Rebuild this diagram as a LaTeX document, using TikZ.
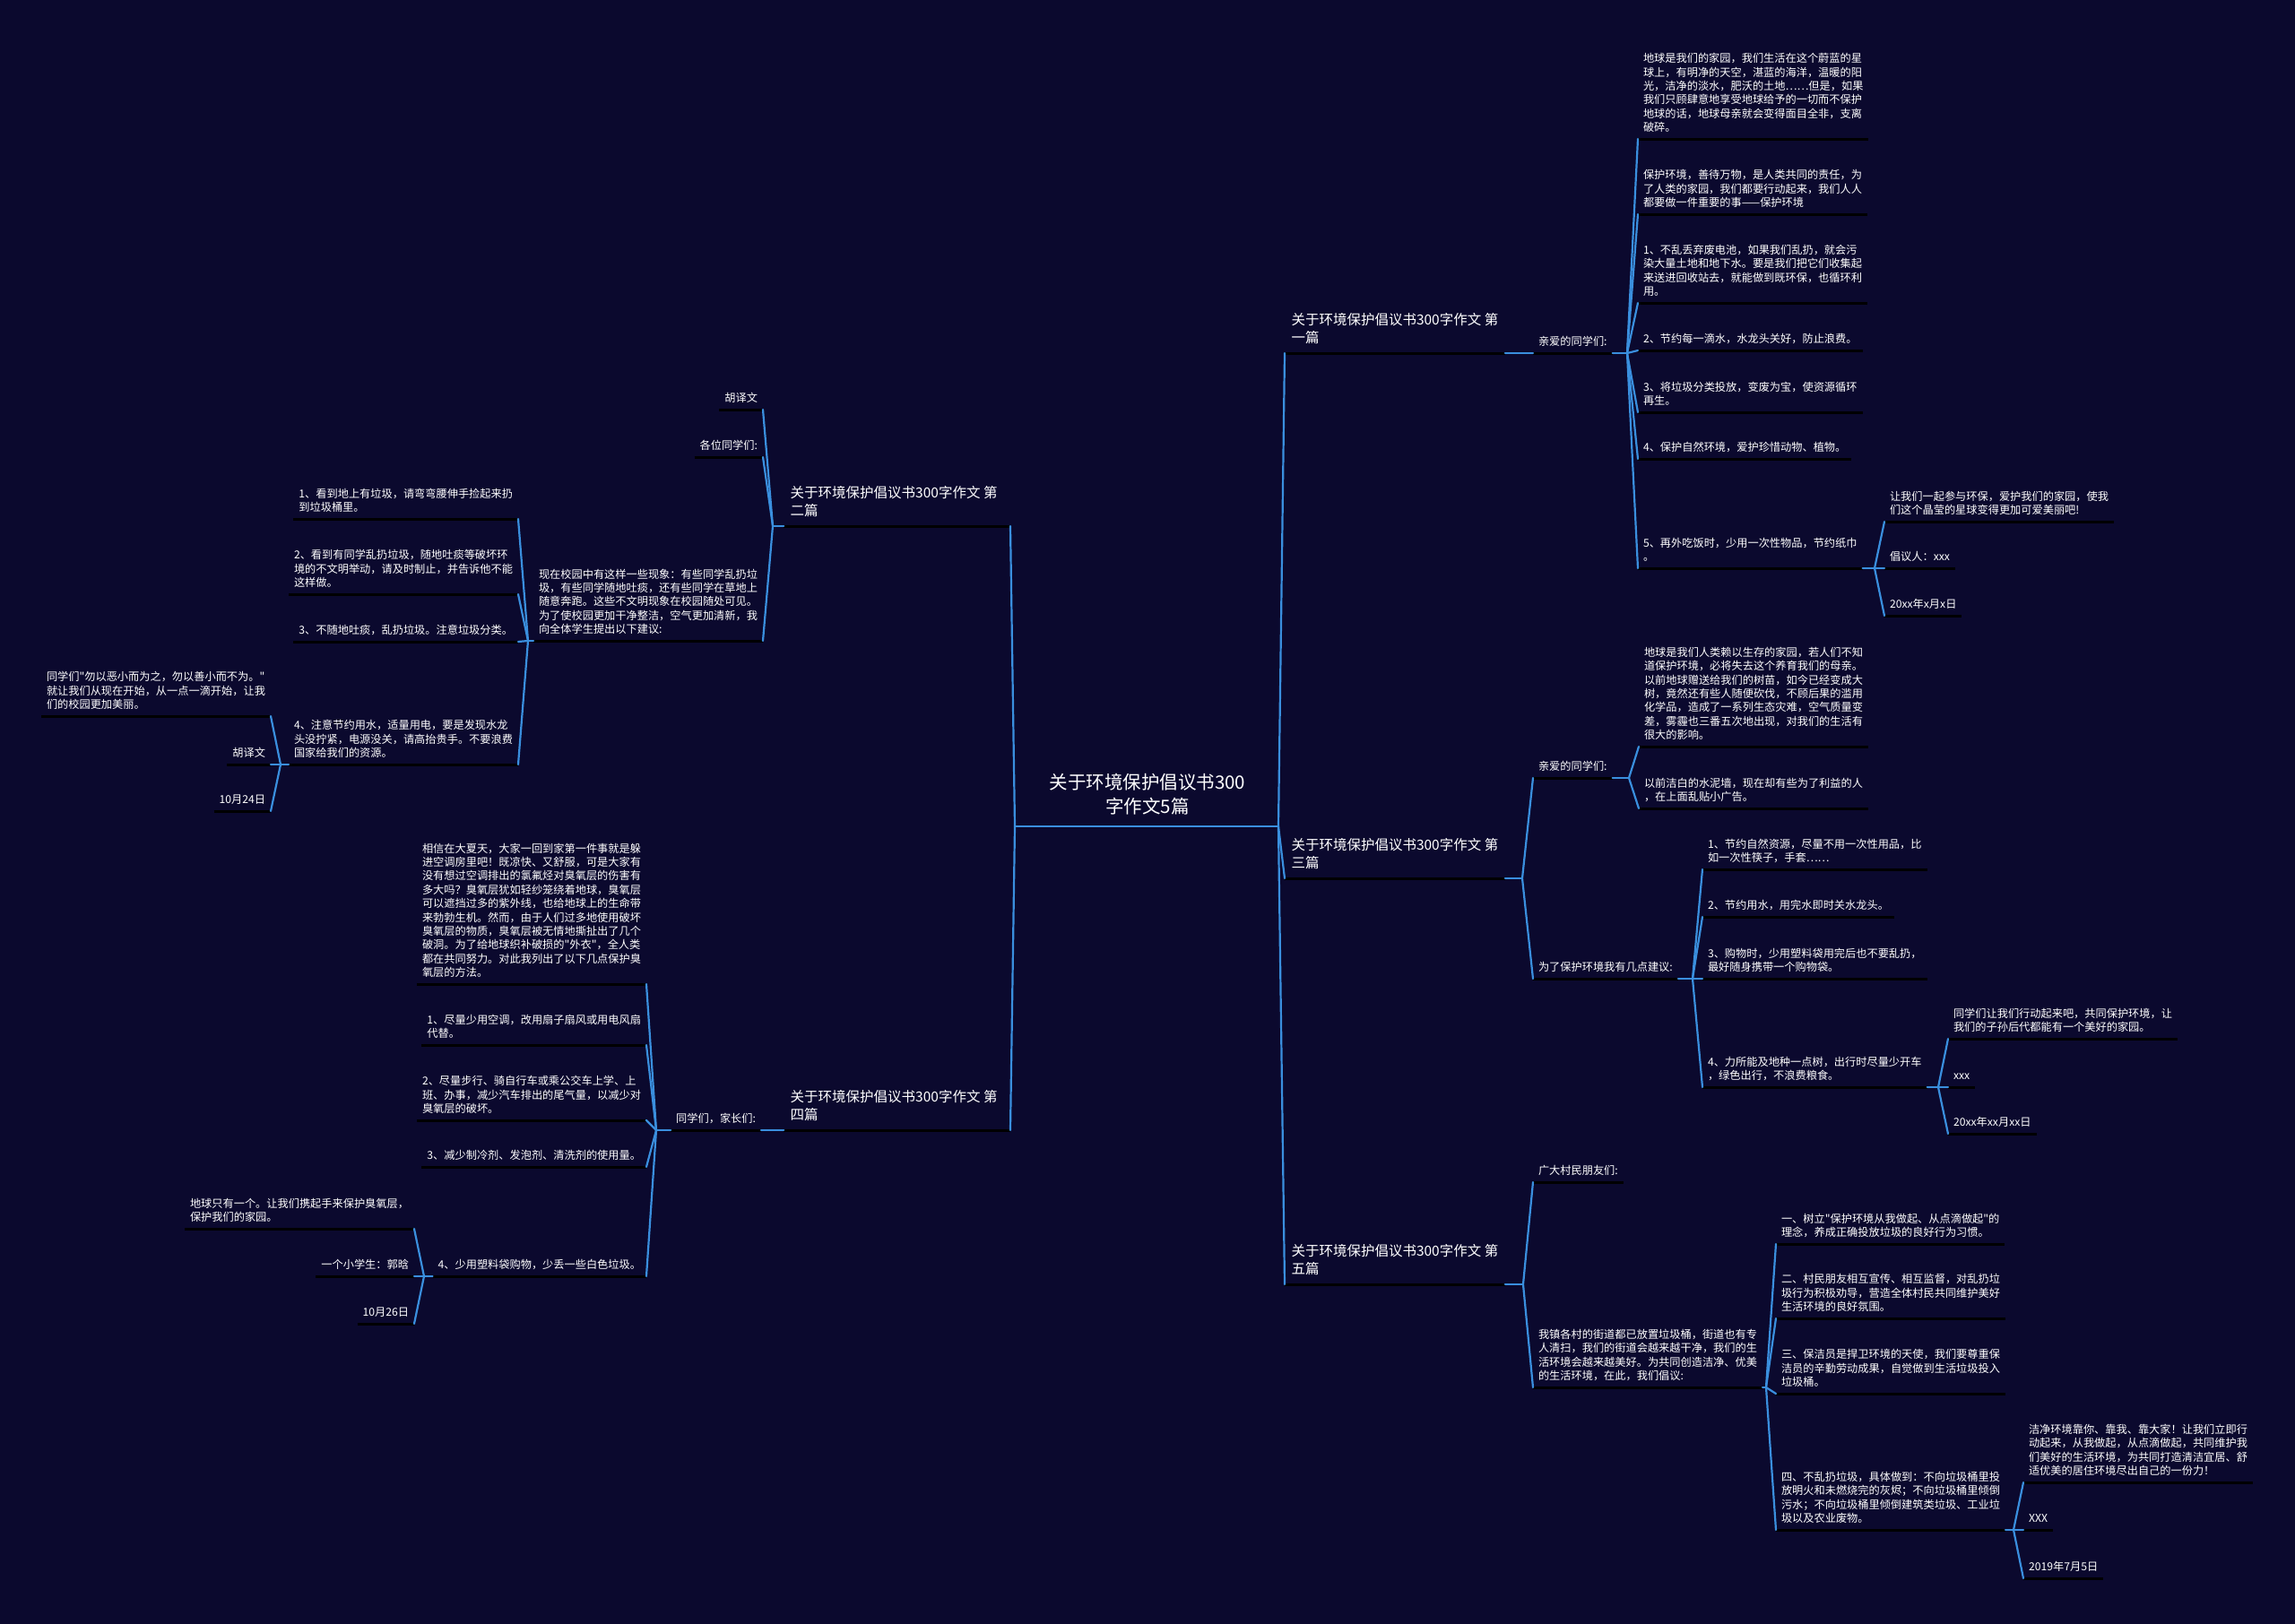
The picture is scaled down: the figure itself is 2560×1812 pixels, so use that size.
\documentclass[tikz,border=0pt]{standalone}
\usepackage{fontspec}
\setmainfont{Noto Sans CJK SC}
\newfontfamily\nf{Noto Sans CJK SC}
\usetikzlibrary{calc}
\definecolor{bgc}{RGB}{11,9,46}
\definecolor{lnc}{RGB}{58,143,222}
\tikzset{
 txtbase/.style={inner xsep=6pt, inner ysep=5.4pt, outer sep=0pt, text depth=3pt, align=left, text=white, font=\nf\fontsize{12.2}{15.4}\selectfont},
 rn/.style={txtbase, anchor=south west},
 ln/.style={txtbase, anchor=south east},
 secbase/.style={txtbase, inner xsep=7.5pt, inner ysep=8.3pt, font=\nf\fontsize{15.5}{20}\selectfont},
 rsec/.style={secbase, anchor=south west},
 lsec/.style={secbase, anchor=south east},
 ul/.style={draw=black, line width=3pt},
 cn/.style={draw=lnc, line width=2.2pt, line cap=round},
}
\begin{document}
\begin{tikzpicture}[x=1pt,y=-1pt]
\fill[bgc] (0,0) rectangle (2560,1812);
\useasboundingbox (0,0) rectangle (2560,1812);

% root
\node[txtbase, anchor=south, align=center, font=\nf\fontsize{20.5}{27}\selectfont, inner ysep=11.8pt] (root) at (1280,922) {关于环境保护倡议书300\\字作文5篇};
\coordinate (rootL) at (1138,922);
\coordinate (rootR) at (1420,922);
\coordinate (vR) at (1426,922);
\coordinate (vL) at (1132,922);

% ---------- right: section 1
\node[rsec] (S1) at (1433,394) {关于环境保护倡议书300字作文 第\\一篇};
\node[rn] (S1a) at (1710,394) {亲爱的同学们:};
\node[rn] (S1a1) at (1827,155) {地球是我们的家园，我们生活在这个蔚蓝的星\\球上，有明净的天空，湛蓝的海洋，温暖的阳\\光，洁净的淡水，肥沃的土地……但是，如果\\我们只顾肆意地享受地球给予的一切而不保护\\地球的话，地球母亲就会变得面目全非，支离\\破碎。};
\node[rn] (S1a2) at (1827,239) {保护环境，善待万物，是人类共同的责任，为\\了人类的家园，我们都要行动起来，我们人人\\都要做一件重要的事——保护环境};
\node[rn] (S1a3) at (1827,338) {1、不乱丢弃废电池，如果我们乱扔，就会污\\染大量土地和地下水。要是我们把它们收集起\\来送进回收站去，就能做到既环保，也循环利\\用。};
\node[rn] (S1a4) at (1827,391) {2、节约每一滴水，水龙头关好，防止浪费。};
\node[rn] (S1a5) at (1827,460) {3、将垃圾分类投放，变废为宝，使资源循环\\再生。};
\node[rn] (S1a6) at (1827,512) {4、保护自然环境，爱护珍惜动物、植物。};
\node[rn] (S1a7) at (1827,634) {5、再外吃饭时，少用一次性物品，节约纸巾\\。};
\node[rn] (S1a7a) at (2102,582) {让我们一起参与环保，爱护我们的家园，使我\\们这个晶莹的星球变得更加可爱美丽吧!};
\node[rn] (S1a7b) at (2102,634) {倡议人：xxx};
\node[rn] (S1a7c) at (2102,687) {20xx年x月x日};
\coordinate (vS1a) at (1815,394);
\coordinate (vS1a7) at (2091,634);

% ---------- right: section 3
\node[rsec] (S3) at (1433,980) {关于环境保护倡议书300字作文 第\\三篇};
\node[rn] (S3a) at (1710,868) {亲爱的同学们:};
\node[rn] (S3a1) at (1828,833) {地球是我们人类赖以生存的家园，若人们不知\\道保护环境，必将失去这个养育我们的母亲。\\以前地球赠送给我们的树苗，如今已经变成大\\树，竟然还有些人随便砍伐，不顾后果的滥用\\化学品，造成了一系列生态灾难，空气质量变\\差，雾霾也三番五次地出现，对我们的生活有\\很大的影响。};
\node[rn] (S3a2) at (1828,902) {以前洁白的水泥墙，现在却有些为了利益的人\\，在上面乱贴小广告。};
\node[rn] (S3b) at (1710,1092) {为了保护环境我有几点建议:};
\node[rn] (S3b1) at (1899,970) {1、节约自然资源，尽量不用一次性用品，比\\如一次性筷子，手套……};
\node[rn] (S3b2) at (1899,1023) {2、节约用水，用完水即时关水龙头。};
\node[rn] (S3b3) at (1899,1092) {3、购物时，少用塑料袋用完后也不要乱扔，\\最好随身携带一个购物袋。};
\node[rn] (S3b4) at (1899,1213) {4、力所能及地种一点树，出行时尽量少开车\\，绿色出行，不浪费粮食。};
\node[rn] (S3b4a) at (2173,1159) {同学们让我们行动起来吧，共同保护环境，让\\我们的子孙后代都能有一个美好的家园。};
\node[rn] (S3b4b) at (2173,1213) {xxx};
\node[rn] (S3b4c) at (2173,1265) {20xx年xx月xx日};
\coordinate (vS3) at (1698,980);
\coordinate (vS3a) at (1817,868);
\coordinate (vS3b) at (1888,1092);
\coordinate (vS3b4) at (2162,1213);

% ---------- right: section 5
\node[rsec] (S5) at (1433,1433) {关于环境保护倡议书300字作文 第\\五篇};
\node[rn] (S5a) at (1710,1319) {广大村民朋友们:};
\node[rn] (S5b) at (1710,1548) {我镇各村的街道都已放置垃圾桶，街道也有专\\人清扫，我们的街道会越来越干净，我们的生\\活环境会越来越美好。为共同创造洁净、优美\\的生活环境，在此，我们倡议:};
\node[rn] (S5b1) at (1981,1388) {一、树立"保护环境从我做起、从点滴做起"的\\理念，养成正确投放垃圾的良好行为习惯。};
\node[rn] (S5b2) at (1981,1471) {二、村民朋友相互宣传、相互监督，对乱扔垃\\圾行为积极劝导，营造全体村民共同维护美好\\生活环境的良好氛围。};
\node[rn] (S5b3) at (1981,1555) {三、保洁员是捍卫环境的天使，我们要尊重保\\洁员的辛勤劳动成果，自觉做到生活垃圾投入\\垃圾桶。};
\node[rn] (S5b4) at (1981,1707) {四、不乱扔垃圾，具体做到：不向垃圾桶里投\\放明火和未燃烧完的灰烬；不向垃圾桶里倾倒\\污水；不向垃圾桶里倾倒建筑类垃圾、工业垃\\圾以及农业废物。};
\node[rn] (S5b4a) at (2257,1654) {洁净环境靠你、靠我、靠大家！让我们立即行\\动起来，从我做起，从点滴做起，共同维护我\\们美好的生活环境，为共同打造清洁宜居、舒\\适优美的居住环境尽出自己的一份力！};
\node[rn] (S5b4b) at (2257,1707) {XXX};
\node[rn] (S5b4c) at (2257,1761) {2019年7月5日};
\coordinate (vS5) at (1699,1433);
\coordinate (vS5b) at (1970,1548);
\coordinate (vS5b4) at (2246,1707);

% ---------- left: section 2
\node[lsec] (S2) at (1127,587) {关于环境保护倡议书300字作文 第\hspace*{7pt}\\二篇};
\node[ln] (S2a) at (851,457) {胡译文};
\node[ln] (S2b) at (851,510) {各位同学们:};
\node[ln] (S2c) at (851,715) {现在校园中有这样一些现象：有些同学乱扔垃\\圾，有些同学随地吐痰，还有些同学在草地上\\随意奔跑。这些不文明现象在校园随处可见。\\为了使校园更加干净整洁，空气更加清新，我\\向全体学生提出以下建议:};
\node[ln] (S2c1) at (578,579) {1、看到地上有垃圾，请弯弯腰伸手捡起来扔\\到垃圾桶里。};
\node[ln] (S2c2) at (578,663) {2、看到有同学乱扔垃圾，随地吐痰等破坏环\\境的不文明举动，请及时制止，并告诉他不能\\这样做。};
\node[ln] (S2c3) at (578,716) {3、不随地吐痰，乱扔垃圾。注意垃圾分类。};
\node[ln] (S2c4) at (578,853) {4、注意节约用水，适量用电，要是发现水龙\\头没拧紧，电源没关，请高抬贵手。不要浪费\\国家给我们的资源。};
\node[ln] (S2c4a) at (302,799) {同学们"勿以恶小而为之，勿以善小而不为。"\\就让我们从现在开始，从一点一滴开始，让我\\们的校园更加美丽。};
\node[ln] (S2c4b) at (302,853) {胡译文};
\node[ln] (S2c4c) at (302,905) {10月24日};
\coordinate (vS2) at (862,587);
\coordinate (vS2c) at (589,715);
\coordinate (vS2c4) at (313,853);

% ---------- left: section 4
\node[lsec] (S4) at (1127,1261) {关于环境保护倡议书300字作文 第\hspace*{7pt}\\四篇};
\node[ln] (S4a) at (849,1261) {同学们，家长们:};
\node[ln] (S4a1) at (721,1098) {相信在大夏天，大家一回到家第一件事就是躲\\进空调房里吧！既凉快、又舒服，可是大家有\\没有想过空调排出的氯氟烃对臭氧层的伤害有\\多大吗？臭氧层犹如轻纱笼绕着地球，臭氧层\\可以遮挡过多的紫外线，也给地球上的生命带\\来勃勃生机。然而，由于人们过多地使用破坏\\臭氧层的物质，臭氧层被无情地撕扯出了几个\\破洞。为了给地球织补破损的"外衣"，全人类\\都在共同努力。对此我列出了以下几点保护臭\\氧层的方法。};
\node[ln] (S4a2) at (721,1166) {1、尽量少用空调，改用扇子扇风或用电风扇\\代替。};
\node[ln] (S4a3) at (721,1250) {2、尽量步行、骑自行车或乘公交车上学、上\\班、办事，减少汽车排出的尾气量，以减少对\\臭氧层的破坏。};
\node[ln] (S4a4) at (721,1302) {3、减少制冷剂、发泡剂、清洗剂的使用量。};
\node[ln] (S4a5) at (721,1424) {4、少用塑料袋购物，少丢一些白色垃圾。};
\node[ln] (S4a5a) at (462,1371) {地球只有一个。让我们携起手来保护臭氧层，\\保护我们的家园。};
\node[ln] (S4a5b) at (462,1424) {一个小学生：郭晗};
\node[ln] (S4a5c) at (462,1477) {10月26日};
\coordinate (vS4a) at (732,1261);
\coordinate (vS4a5) at (473,1424);

% ---------- underlines
\foreach \n in {S1,S1a,S1a1,S1a2,S1a3,S1a4,S1a5,S1a6,S1a7,S1a7a,S1a7b,S1a7c,
  S3,S3a,S3a1,S3a2,S3b,S3b1,S3b2,S3b3,S3b4,S3b4a,S3b4b,S3b4c,
  S5,S5a,S5b,S5b1,S5b2,S5b3,S5b4,S5b4a,S5b4b,S5b4c,
  S2,S2a,S2b,S2c,S2c1,S2c2,S2c3,S2c4,S2c4a,S2c4b,S2c4c,
  S4,S4a,S4a1,S4a2,S4a3,S4a4,S4a5,S4a5a,S4a5b,S4a5c}
  \draw[ul] (\n.south west) -- (\n.south east);

% ---------- connectors
\draw[cn, line width=2.6pt] (rootL) -- (rootR);
\draw[cn] (rootR) -- (vR);
\draw[cn] (rootL) -- (vL);
\foreach \c in {S1,S3,S5} \draw[cn] (vR) -- (\c.south west);
\foreach \c in {S2,S4} \draw[cn] (vL) -- (\c.south east);

\draw[cn] (S1.south east) -- (S1a.south west);
\draw[cn] (S1a.south east) -- (vS1a);
\foreach \c in {S1a1,S1a2,S1a3,S1a4,S1a5,S1a6,S1a7} \draw[cn] (vS1a) -- (\c.south west);
\draw[cn] (S1a7.south east) -- (vS1a7);
\foreach \c in {S1a7a,S1a7b,S1a7c} \draw[cn] (vS1a7) -- (\c.south west);

\draw[cn] (S3.south east) -- (vS3);
\foreach \c in {S3a,S3b} \draw[cn] (vS3) -- (\c.south west);
\draw[cn] (S3a.south east) -- (vS3a);
\foreach \c in {S3a1,S3a2} \draw[cn] (vS3a) -- (\c.south west);
\draw[cn] (S3b.south east) -- (vS3b);
\foreach \c in {S3b1,S3b2,S3b3,S3b4} \draw[cn] (vS3b) -- (\c.south west);
\draw[cn] (S3b4.south east) -- (vS3b4);
\foreach \c in {S3b4a,S3b4b,S3b4c} \draw[cn] (vS3b4) -- (\c.south west);

\draw[cn] (S5.south east) -- (vS5);
\foreach \c in {S5a,S5b} \draw[cn] (vS5) -- (\c.south west);
\draw[cn] (S5b.south east) -- (vS5b);
\foreach \c in {S5b1,S5b2,S5b3,S5b4} \draw[cn] (vS5b) -- (\c.south west);
\draw[cn] (S5b4.south east) -- (vS5b4);
\foreach \c in {S5b4a,S5b4b,S5b4c} \draw[cn] (vS5b4) -- (\c.south west);

\draw[cn] (S2.south west) -- (vS2);
\foreach \c in {S2a,S2b,S2c} \draw[cn] (vS2) -- (\c.south east);
\draw[cn] (S2c.south west) -- (vS2c);
\foreach \c in {S2c1,S2c2,S2c3,S2c4} \draw[cn] (vS2c) -- (\c.south east);
\draw[cn] (S2c4.south west) -- (vS2c4);
\foreach \c in {S2c4a,S2c4b,S2c4c} \draw[cn] (vS2c4) -- (\c.south east);

\draw[cn] (S4.south west) -- (S4a.south east);
\draw[cn] (S4a.south west) -- (vS4a);
\foreach \c in {S4a1,S4a2,S4a3,S4a4,S4a5} \draw[cn] (vS4a) -- (\c.south east);
\draw[cn] (S4a5.south west) -- (vS4a5);
\foreach \c in {S4a5a,S4a5b,S4a5c} \draw[cn] (vS4a5) -- (\c.south east);
\end{tikzpicture}
\end{document}
